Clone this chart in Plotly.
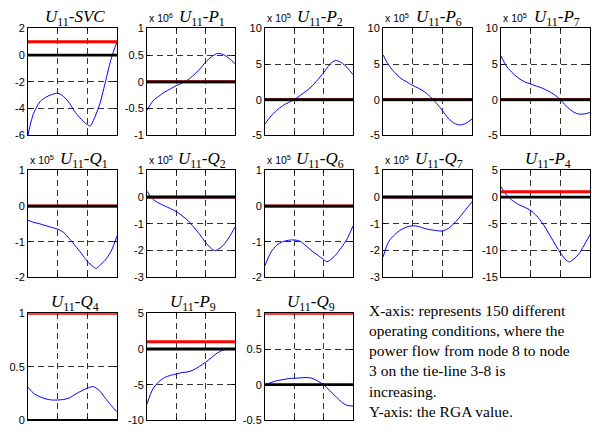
import plotly.graph_objects as go

# ---------------- data ----------------
x_std = [0, 10, 20, 30, 40, 50, 60, 70, 80, 90, 100, 110, 120, 130, 140, 150]

svc_x = [0, 5, 10, 20, 30, 40, 50, 60, 70, 80, 90, 100, 105, 110, 120, 130, 140, 150]
svc_y = [-6.0, -5.0, -4.3, -3.5, -3.15, -2.95, -2.85, -3.1, -3.6, -4.3, -4.8, -5.2, -5.3, -4.9, -3.8, -2.1, -0.3, 1.0]

p1_y = [-0.53, -0.36, -0.27, -0.19, -0.13, -0.07, -0.02, 0.04, 0.13, 0.24, 0.37, 0.47, 0.53, 0.51, 0.44, 0.34]
p2_y = [-3.4, -2.3, -1.5, -0.85, -0.4, 0.0, 0.6, 1.2, 1.9, 2.8, 3.8, 4.9, 5.5, 5.2, 4.5, 3.5]
p6_y = [6.3, 4.8, 3.8, 3.0, 2.5, 2.0, 1.6, 1.1, 0.4, -0.5, -1.5, -2.6, -3.3, -3.55, -3.3, -2.7]
p7_y = [6.1, 4.6, 3.7, 3.0, 2.5, 2.2, 1.9, 1.6, 1.2, 0.7, 0.0, -0.9, -1.6, -2.0, -2.0, -1.8]

q1_x = [0, 10, 20, 30, 40, 50, 60, 70, 80, 90, 100, 110, 115, 120, 130, 140, 150]
q1_y = [-0.4, -0.46, -0.5, -0.55, -0.6, -0.65, -0.74, -0.92, -1.12, -1.33, -1.55, -1.7, -1.75, -1.68, -1.52, -1.27, -0.84]
q2_x = [0, 10, 20, 30, 40, 50, 60, 70, 80, 90, 100, 110, 115, 120, 130, 140, 150]
q2_y = [0.22, -0.08, -0.22, -0.33, -0.43, -0.54, -0.7, -0.88, -1.13, -1.4, -1.7, -1.93, -2.0, -1.97, -1.8, -1.5, -1.12]
q6_x = [0, 10, 20, 30, 40, 50, 60, 70, 80, 90, 100, 105, 110, 120, 130, 140, 150]
q6_y = [-1.67, -1.3, -1.1, -1.0, -0.96, -0.95, -0.99, -1.12, -1.26, -1.38, -1.5, -1.56, -1.53, -1.38, -1.17, -0.92, -0.56]
q7_y = [-2.24, -1.65, -1.4, -1.22, -1.12, -1.07, -1.1, -1.17, -1.22, -1.25, -1.27, -1.17, -0.98, -0.73, -0.45, -0.18]
p4_x = [0, 10, 20, 30, 40, 50, 60, 70, 80, 90, 100, 110, 115, 120, 130, 140, 150]
p4_y = [1.94, 0.3, -0.7, -1.4, -1.9, -2.5, -3.5, -4.9, -6.7, -8.6, -10.4, -11.8, -12.1, -11.8, -10.8, -9.0, -7.0]

q4_y = [0.31, 0.25, 0.22, 0.2, 0.19, 0.19, 0.195, 0.21, 0.245, 0.275, 0.3, 0.315, 0.28, 0.21, 0.14, 0.08]
p9_y = [-7.7, -5.6, -4.6, -4.0, -3.7, -3.5, -3.3, -3.2, -2.9, -2.4, -1.85, -1.2, -0.55, -0.15, 0.0, 0.0]
q9_y = [0.0, 0.03, 0.055, 0.07, 0.085, 0.09, 0.095, 0.1, 0.09, 0.05, 0.0, -0.08, -0.16, -0.24, -0.29, -0.3]

titles = ["<i>U</i><sub>11</sub>-<i>SVC</i>", "<i>U</i><sub>11</sub>-<i>P</i><sub>1</sub>",
          "<i>U</i><sub>11</sub>-<i>P</i><sub>2</sub>", "<i>U</i><sub>11</sub>-<i>P</i><sub>6</sub>",
          "<i>U</i><sub>11</sub>-<i>P</i><sub>7</sub>",
          "<i>U</i><sub>11</sub>-<i>Q</i><sub>1</sub>", "<i>U</i><sub>11</sub>-<i>Q</i><sub>2</sub>",
          "<i>U</i><sub>11</sub>-<i>Q</i><sub>6</sub>", "<i>U</i><sub>11</sub>-<i>Q</i><sub>7</sub>",
          "<i>U</i><sub>11</sub>-<i>P</i><sub>4</sub>",
          "<i>U</i><sub>11</sub>-<i>Q</i><sub>4</sub>", "<i>U</i><sub>11</sub>-<i>P</i><sub>9</sub>",
          "<i>U</i><sub>11</sub>-<i>Q</i><sub>9</sub>"]
series_x = [svc_x, x_std, x_std, x_std, x_std, q1_x, q2_x, q6_x, x_std, p4_x, x_std, x_std, x_std]
series_y = [svc_y, p1_y, p2_y, p6_y, p7_y, q1_y, q2_y, q6_y, q7_y, p4_y, q4_y, p9_y, q9_y]
exponents = [0, 6, 5, 5, 5, 5, 5, 5, 5, 0, 0, 0, 0]
y_ranges = [(-6, 2), (-1, 1), (-5, 10), (-5, 10), (-5, 10), (-2, 1), (-3, 1), (-2, 1), (-3, 1),
            (-15, 5), (0, 1), (-10, 5), (-0.5, 1)]
y_ticks = [[-6, -4, -2, 0, 2], [-1, -0.5, 0, 0.5, 1], [-5, 0, 5, 10], [-5, 0, 5, 10], [-5, 0, 5, 10],
           [-2, -1, 0, 1], [-3, -2, -1, 0, 1], [-2, -1, 0, 1], [-3, -2, -1, 0, 1],
           [-15, -10, -5, 0, 5], [0, 0.5, 1], [-10, -5, 0, 5], [-0.5, 0, 0.5, 1]]
x_ticks = [50, 100]
x_range = (0, 150)
rga_ref = 1.0

note_lines = ["X-axis: represents 150 different", "operating conditions, where the",
              "power flow from node 8 to node", "3 on the tie-line 3-8 is",
              "increasing.", "Y-axis: the RGA value."]

# ---------------- layout geometry (pixels) ----------------
W, H = 592, 438
cols_px = [(28, 117), (147, 235), (265, 353), (383, 472), (501, 590)]
rows_px = [(23, 133), (169, 279), (316, 426)]

fig = go.Figure()
layout = dict(width=W, height=H, margin=dict(l=0, r=0, t=0, b=0), autosize=False,
              paper_bgcolor="white", plot_bgcolor="white", showlegend=False)
annotations = []

for i in range(13):
    r, c = divmod(i, 5)
    x0, x1 = cols_px[c]
    y0, y1 = rows_px[r]
    n = "" if i == 0 else str(i + 1)
    xa, ya = "x" + n, "y" + n
    scale = 10 ** exponents[i]
    axis_common = dict(showline=True, linecolor="black", linewidth=1, mirror="ticks",
                       ticks="inside", ticklen=3, tickcolor="black", layer="below traces",
                       showgrid=True, gridcolor="#333333", gridwidth=1, griddash="6px,4px",
                       zeroline=False, tickfont=dict(family="Liberation Sans, Arial", size=11, color="black"))
    layout["xaxis" + n] = dict(axis_common, domain=[x0 / W, x1 / W], range=list(x_range),
                               tickvals=x_ticks, showticklabels=False, anchor=ya)
    layout["yaxis" + n] = dict(axis_common, domain=[1 - y1 / H, 1 - y0 / H], range=list(y_ranges[i]),
                               tickvals=y_ticks[i], ticktext=[f"{v:g}" for v in y_ticks[i]], anchor=xa)
    fig.add_trace(go.Scatter(x=series_x[i], y=series_y[i], mode="lines", line=dict(color="#0000ff", width=1, shape="spline", smoothing=0.8),
                             xaxis=xa, yaxis=ya, hoverinfo="skip"))
    fig.add_trace(go.Scatter(x=list(x_range), y=[rga_ref / scale] * 2, mode="lines", line=dict(color="#ff0000", width=3),
                             xaxis=xa, yaxis=ya, hoverinfo="skip"))
    fig.add_trace(go.Scatter(x=list(x_range), y=[0, 0], mode="lines", line=dict(color="black", width=2.8),
                             xaxis=xa, yaxis=ya, hoverinfo="skip"))
    # title
    tcx = (x0 + x1) / 2 + (11 if exponents[i] else 2)
    tcy = y0 - 11
    annotations.append(dict(text=titles[i], x=tcx / W, y=1 - tcy / H, xref="paper", yref="paper",
                            xanchor="center", yanchor="middle", showarrow=False,
                            font=dict(family="Liberation Serif, Times New Roman", size=17, color="black")))
    if exponents[i]:
        annotations.append(dict(text=f"x 10<sup>{exponents[i]}</sup>", x=x0 / W, y=1 - (y0 - 2) / H,
                                xref="paper", yref="paper", xanchor="left", yanchor="bottom", showarrow=False,
                                font=dict(family="Liberation Sans, Arial", size=10.5, color="black")))

annotations.append(dict(text="<br>".join(note_lines), x=367 / W, y=1 - 302 / H, xref="paper", yref="paper",
                        xanchor="left", yanchor="top", align="left", showarrow=False,
                        font=dict(family="Liberation Serif, Times New Roman", size=15.5, color="black")))
layout["annotations"] = annotations
fig.update_layout(**layout)
fig.write_html("out.html")
